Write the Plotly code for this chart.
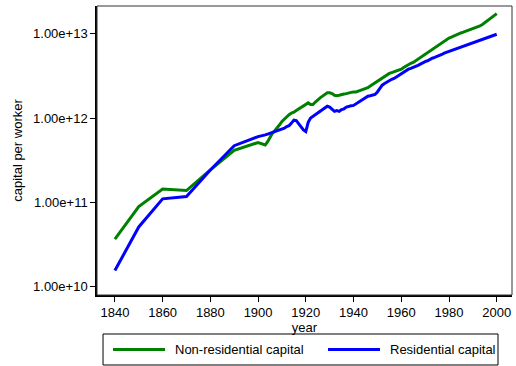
import plotly.graph_objects as go

# Decennial benchmark years, then annual observations from 1900
years_early = [1840, 1850, 1860, 1870, 1880, 1890]
years_annual = list(range(1900, 2001))

nonres_early = [3.65e10, 8.9e10, 1.44e11, 1.38e11, 2.42e11, 4.15e11]
res_early = [1.55e10, 5.1e10, 1.10e11, 1.17e11, 2.42e11, 4.7e11]

# log10 of capital per worker, 1900-2000
nonres_log = [
    11.71, 11.70, 11.69, 11.68, 11.72, 11.78, 11.82, 11.85, 11.88, 11.92,
    11.96, 11.99, 12.02, 12.04, 12.06, 12.07, 12.09, 12.11, 12.13, 12.15,
    12.17, 12.18, 12.16, 12.16, 12.19, 12.22, 12.24, 12.26, 12.28, 12.30,
    12.30, 12.29, 12.27, 12.265, 12.27, 12.28, 12.285, 12.29, 12.30, 12.305,
    12.31, 12.31, 12.32, 12.33, 12.34, 12.35, 12.36, 12.38, 12.40, 12.42,
    12.44, 12.46, 12.48, 12.50, 12.515, 12.53, 12.54, 12.55, 12.56, 12.57,
    12.58, 12.60, 12.62, 12.64, 12.65, 12.66, 12.68, 12.70, 12.72, 12.74,
    12.76, 12.78, 12.79, 12.81, 12.83, 12.85, 12.87, 12.89, 12.91, 12.93,
    12.95, 12.96, 12.975, 12.99, 13.00, 13.01, 13.02, 13.03, 13.04, 13.05,
    13.06, 13.07, 13.08, 13.095, 13.11, 13.13, 13.15, 13.17, 13.19, 13.215,
    13.24,
]
res_log = [
    11.78, 11.785, 11.79, 11.80, 11.81, 11.82, 11.83, 11.84, 11.85, 11.86,
    11.87, 11.88, 11.90, 11.91, 11.94, 11.975, 11.97, 11.93, 11.89, 11.86,
    11.84, 11.95, 12.00, 12.02, 12.05, 12.07, 12.09, 12.11, 12.13, 12.14,
    12.13, 12.10, 12.08, 12.09, 12.08, 12.10, 12.11, 12.13, 12.14, 12.145,
    12.15, 12.17, 12.19, 12.21, 12.23, 12.25, 12.26, 12.265, 12.27, 12.28,
    12.31, 12.35, 12.39, 12.41, 12.43, 12.45, 12.46, 12.47, 12.49, 12.51,
    12.52, 12.54, 12.56, 12.58, 12.59, 12.60, 12.61, 12.625, 12.64, 12.66,
    12.67, 12.68, 12.70, 12.71, 12.72, 12.73, 12.745, 12.755, 12.77, 12.78,
    12.79, 12.80, 12.81, 12.82, 12.83, 12.84, 12.85, 12.86, 12.87, 12.88,
    12.89, 12.90, 12.91, 12.92, 12.93, 12.94, 12.95, 12.96, 12.97, 12.98,
    12.995,
]

years = years_early + years_annual
nonres = nonres_early + [10 ** v for v in nonres_log]
res = res_early + [10 ** v for v in res_log]

series_names = ["Non-residential capital", "Residential capital"]
series_colors = ["#008000", "#0000ff"]

y_ticks = [1e10, 1e11, 1e12, 1e13]
y_tick_text = ["1.00e+10", "1.00e+11", "1.00e+12", "1.00e+13"]
x_ticks = [1840, 1860, 1880, 1900, 1920, 1940, 1960, 1980, 2000]

FONT = "Liberation Sans, Arial, Helvetica, sans-serif"

fig = go.Figure()
for name, color, vals in zip(series_names, series_colors, [nonres, res]):
    fig.add_trace(go.Scatter(
        x=years, y=vals, name=name, mode="lines",
        line=dict(color=color, width=3), showlegend=False,
    ))

# Legend box below the plot, drawn in paper coordinates
shapes = [
    dict(type="rect", xref="paper", yref="paper", x0=0, x1=1, y0=0, y1=1,
         line=dict(color="#333333", width=1), layer="above"),
    dict(type="rect", xref="paper", yref="paper",
         x0=0.0145, x1=0.9663, y0=-0.2422, y1=-0.1349,
         line=dict(color="black", width=1), fillcolor="white"),
]
annotations = []
legend_slots = [(0.0386, 0.1639, 0.1831), (0.5566, 0.6819, 0.7012)]
for (lx0, lx1, tx), name, color in zip(legend_slots, series_names, series_colors):
    shapes.append(dict(type="line", xref="paper", yref="paper",
                       x0=lx0, x1=lx1, y0=-0.1886, y1=-0.1886,
                       line=dict(color=color, width=3)))
    annotations.append(dict(text=name, xref="paper", yref="paper",
                            x=tx, y=-0.1886, xanchor="left", yanchor="middle",
                            showarrow=False, font=dict(size=13)))

fig.update_layout(
    width=516, height=366,
    margin=dict(l=97, r=4, t=6, b=71),
    paper_bgcolor="white", plot_bgcolor="white",
    font=dict(family=FONT, size=13, color="black"),
    showlegend=False,
    xaxis=dict(
        range=[1832.5, 2006.4], tickvals=x_ticks, ticks="outside", ticklen=5,
        tickcolor="black", showline=True, linecolor="black", linewidth=1.5,
        showgrid=False, zeroline=False,
        title=dict(text="year", standoff=0, font=dict(size=13)),
    ),
    yaxis=dict(
        type="log", range=[9.9, 13.33], tickvals=y_ticks, ticktext=y_tick_text,
        ticks="outside", ticklen=5, tickcolor="black", showline=True,
        linecolor="black", linewidth=1.5, showgrid=False, zeroline=False,
        title=dict(text="capital per worker", standoff=8, font=dict(size=13)),
    ),
    shapes=shapes,
    annotations=annotations,
)

fig.write_html("out.html")
